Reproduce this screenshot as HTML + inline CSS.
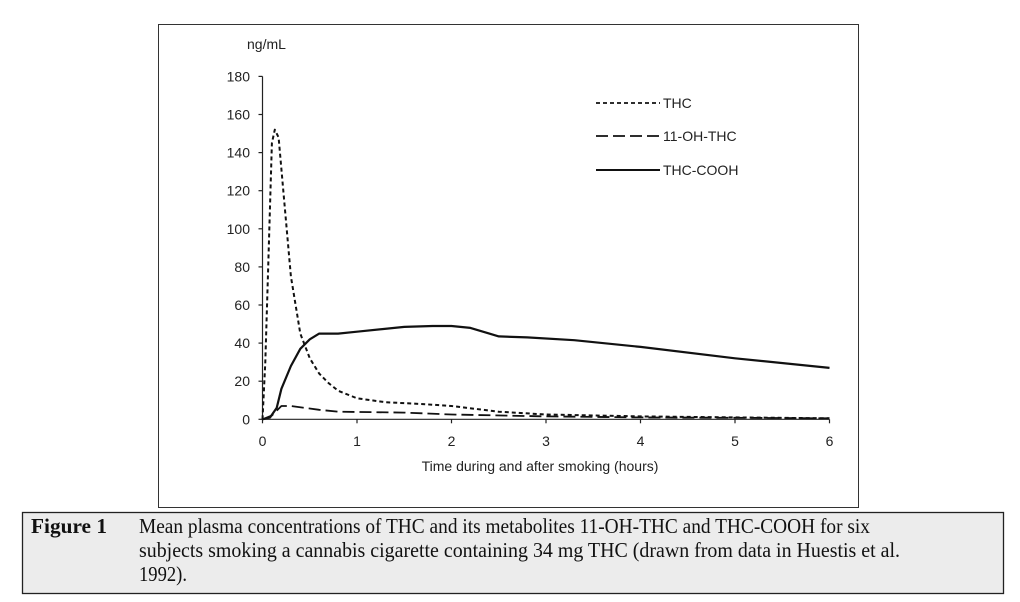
<!DOCTYPE html>
<html><head><meta charset="utf-8"><style>
html,body{margin:0;padding:0;background:#fff;width:1020px;height:602px;overflow:hidden}
svg{display:block}
</style></head><body>
<svg id="s" width="1020" height="602" xmlns="http://www.w3.org/2000/svg" font-family="Liberation Sans, sans-serif">
<rect x="158.5" y="24.5" width="700" height="483" fill="#fff" stroke="#333" stroke-width="1"/>
<rect x="22.5" y="512.5" width="981" height="81" fill="#ececec" stroke="#222" stroke-width="1.3"/>
<g font-family="Liberation Serif, serif" font-size="21" fill="#111">
<text x="31" y="533" font-weight="bold" textLength="76" lengthAdjust="spacingAndGlyphs">Figure 1</text>
<text x="139" y="533" textLength="731" lengthAdjust="spacingAndGlyphs">Mean plasma concentrations of THC and its metabolites 11-OH-THC and THC-COOH for six</text>
<text x="139" y="557" textLength="761" lengthAdjust="spacingAndGlyphs">subjects smoking a cannabis cigarette containing 34 mg THC (drawn from data in Huestis et al.</text>
<text x="139" y="581" textLength="48" lengthAdjust="spacingAndGlyphs">1992).</text>
</g>
<g id="ax" stroke="#222" stroke-width="1.2" fill="none"></g>
<g id="lbl" font-size="14" fill="#222"></g>
<text x="247" y="49" font-size="14" fill="#222">ng/mL</text>
<text x="540" y="471" font-size="14" fill="#222" text-anchor="middle">Time during and after smoking (hours)</text>
<g id="ser" fill="none" stroke="#111" stroke-width="2"></g>
<g font-size="14" fill="#222">
<line x1="596" y1="103" x2="660" y2="103" stroke="#111" stroke-width="1.8" stroke-dasharray="4,3"/>
<text x="663" y="108">THC</text>
<line x1="596" y1="136" x2="660" y2="136" stroke="#111" stroke-width="1.8" stroke-dasharray="12,5"/>
<text x="663" y="141">11-OH-THC</text>
<line x1="596" y1="170" x2="660" y2="170" stroke="#111" stroke-width="2"/>
<text x="663" y="175">THC-COOH</text>
</g>
</svg>
<script>
var NS="http://www.w3.org/2000/svg";
function X(h){return 262.5+94.5*h}
function Y(v){return 419.3-1.905*v}
function el(p,t,a,txt){var e=document.createElementNS(NS,t);for(var k in a)e.setAttribute(k,a[k]);if(txt!=null)e.textContent=txt;document.getElementById(p).appendChild(e);}
el("ax","line",{x1:X(0),y1:Y(0),x2:X(0),y2:Y(180)});
el("ax","line",{x1:X(0),y1:Y(0),x2:X(6),y2:Y(0)});
for(var v=0;v<=180;v+=20){el("ax","line",{x1:X(0)-4,y1:Y(v),x2:X(0),y2:Y(v)});el("lbl","text",{x:250,y:Y(v)+5,"text-anchor":"end"},v);}
for(var h=0;h<=6;h++){el("ax","line",{x1:X(h),y1:Y(0),x2:X(h),y2:Y(0)+4});el("lbl","text",{x:X(h),y:446,"text-anchor":"middle"},h);}
function path(pts,dash,w){var d="";pts.forEach(function(p,i){d+=(i?"L":"M")+X(p[0]).toFixed(1)+","+Y(p[1]).toFixed(1)});var a={d:d,"stroke-width":w,"stroke-linejoin":"round"};if(dash)a["stroke-dasharray"]=dash;el("ser","path",a);}
path([[0,0],[0.03,30],[0.06,80],[0.1,145],[0.13,152],[0.17,148],[0.22,120],[0.3,75],[0.4,45],[0.5,32],[0.6,24],[0.7,19],[0.8,15],[1.0,11],[1.3,9],[1.7,8],[2.0,7],[2.5,4],[3,2.5],[4,1.5],[5,1],[6,0.5]],"4,3",2);
path([[0,0],[0.1,2],[0.2,7],[0.3,7],[0.45,6],[0.6,5],[0.8,4],[1.5,3.5],[2,2.5],[3,1.5],[4,1],[5,0.8],[6,0.5]],"12,5",1.8);
path([[0,0],[0.08,1],[0.15,6],[0.2,16],[0.3,28],[0.4,37],[0.5,42],[0.6,45],[0.8,45],[1.0,46],[1.5,48.5],[1.8,49],[2.0,49],[2.2,48],[2.4,45],[2.5,43.5],[2.8,43],[3.3,41.5],[4,38],[5,32],[6,27]],null,2.2);
</script>
</body></html>
